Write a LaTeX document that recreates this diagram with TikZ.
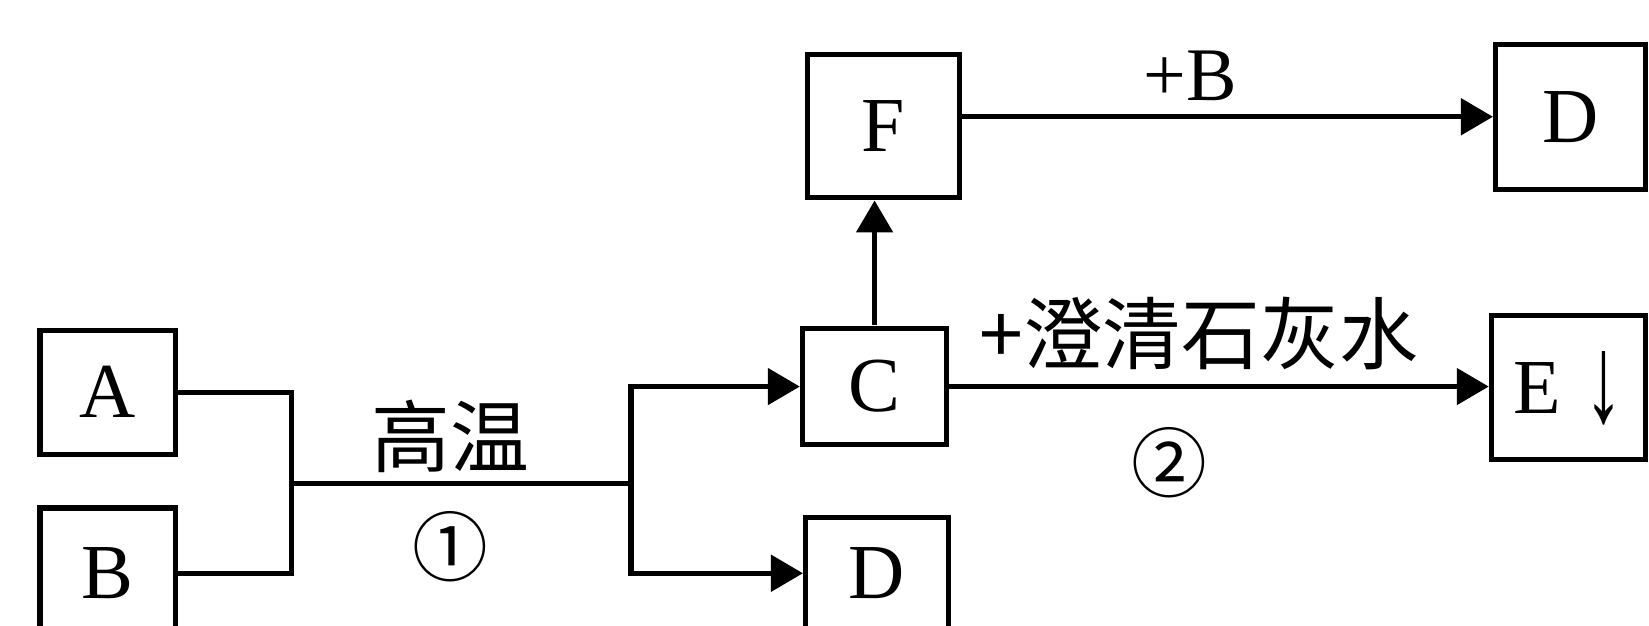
\documentclass[tikz,border=0pt]{standalone}
\usepackage{fontspec}
\usepackage{graphicx}
\setmainfont{Liberation Serif}
\newfontfamily\cjk{Noto Sans CJK SC}
\usetikzlibrary{arrows.meta,calc}
\begin{document}
\begin{tikzpicture}[x=0.5pt,y=-0.5pt,scale=1.05166,every node/.append style={transform shape},
  box/.style={draw, line width=2.6pt, inner sep=0pt, font=\fontsize{37}{40}\selectfont},
  conn/.style={line width=2.6pt},
  arr/.style={conn, -{Triangle[length=16pt,width=18pt]}},
  lab/.style={font=\cjk\fontsize{37.5}{40}\selectfont, inner sep=0pt},
  num/.style={font=\cjk\fontsize{36}{40}\selectfont, inner sep=0pt},
  latlab/.style={font=\fontsize{36}{40}\selectfont, inner sep=0pt}]
\useasboundingbox (0,0) rectangle (1568,594.3);
\clip (0,0) rectangle (1568,594.3);
\fill[white] (0,0) rectangle (1568,594.3);
% boxes
\node[box, minimum width=64.5pt, minimum height=59pt] (A) at (102.5,373) {A};
\node[box, anchor=base, minimum width=64.5pt, text height=43pt, text depth=40pt] (B) at (102.5,569) {B};
\node[box, minimum width=68.5pt, minimum height=55.5pt] (C) at (831.5,367.5) {C};
\node[box, anchor=base, minimum width=68pt, text height=38.5pt, text depth=40pt] (Db) at (834,569) {D};
\node[box, minimum width=72pt, minimum height=68pt] (F) at (840,120) {F};
\node[box, minimum width=71.5pt, minimum height=69pt] (Dt) at (1493.5,111) {D};
\node[box, minimum width=73.5pt, minimum height=68.5pt] (E) at (1491.5,368.5) {E\hspace{0.3em}\smash{\raisebox{-4pt}{\scalebox{1}[1.6]{↓}}}};
% connectors
\coordinate (j1) at (277,460);
\coordinate (j2) at (600,460);
\draw[conn] (A.east) -| (j1) |- ($(B.base east)+(0,-24)$);
\draw[conn] (j1) -- (j2);
\draw[arr] (j2) |- (C.west);
\draw[arr] (j2) |- ($(Db.base west)+(0,-24)$);
\draw[arr] (C.north) -- (C.north |- F.south);
\draw[arr] (F.east |- Dt.west) -- (Dt.west);
\draw[arr] (C.east) -- (C.east -| E.west);
% labels
\node[lab] (t1) at (428,415) {高温};
\node[num] (t2) at (428,520) {①};
\node[latlab] (t3) at (1132,72) {+B};
\node[lab] (t4) at (1140,317) {+澄清石灰水};
\node[num] (t5) at (1112,440) {②};
\end{tikzpicture}
\end{document}
